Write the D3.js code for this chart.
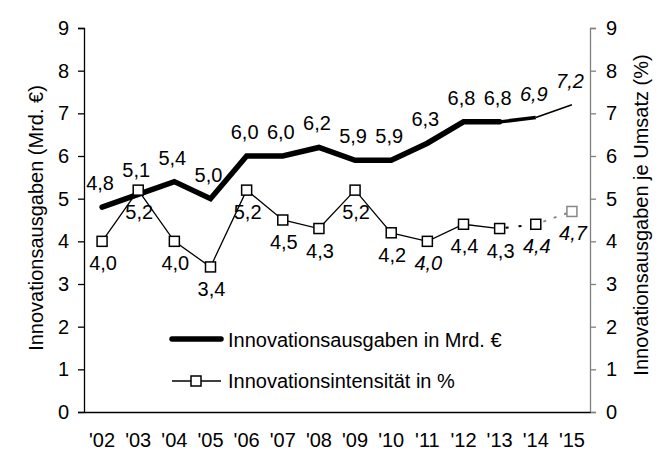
<!DOCTYPE html>
<html>
<head>
<meta charset="utf-8">
<title>Innovationsausgaben</title>
<script src="https://d3js.org/d3.v7.min.js"></script>
<style>
  body { margin: 0; background: #fff; }
  svg { font-family: "Liberation Sans", Arial, sans-serif; }
  .axis text { font-size: 20px; fill: #000; }
  .lbl { font-size: 20px; fill: #000; }
</style>
</head>
<body>
<svg id="chart"></svg>
<script>
const years = ["'02","'03","'04","'05","'06","'07","'08","'09","'10","'11","'12","'13","'14","'15"];
const spend = [4.8, 5.1, 5.4, 5.0, 6.0, 6.0, 6.2, 5.9, 5.9, 6.3, 6.8, 6.8, 6.9, 7.2];
const intensity = [4.0, 5.2, 4.0, 3.4, 5.2, 4.5, 4.3, 5.2, 4.2, 4.0, 4.4, 4.3, 4.4, 4.7];
const yTicks = [0, 1, 2, 3, 4, 5, 6, 7, 8, 9];
// values in italics (estimates / planned)
const spendItalic = ["'14", "'15"];
const intensityItalic = ["'11", "'14", "'15"];

const width = 667, height = 454;
const svg = d3.select("#chart").attr("width", width).attr("height", height);

const x = d3.scaleBand().domain(years).range([84, 590]);
const y = d3.scaleLinear().domain([0, 9]).range([412, 28]);
const cx = d => x(d) + x.bandwidth() / 2;
const fmt = v => d3.format(".1f")(v).replace(".", ",");

// left axis
const gl = svg.append("g").attr("class", "axis").attr("transform", "translate(84,0)")
  .call(d3.axisLeft(y).tickValues(yTicks).tickSize(6).tickPadding(9).tickFormat(d3.format("d")));
gl.select(".domain").attr("stroke", "#000").attr("stroke-width", 1.3);
gl.selectAll(".tick line").attr("stroke", "#000").attr("stroke-width", 1.3);

// right axis
const gr = svg.append("g").attr("class", "axis").attr("transform", "translate(590,0)")
  .call(d3.axisRight(y).tickValues(yTicks).tickSize(6).tickPadding(10).tickFormat(d3.format("d")));
gr.select(".domain").attr("stroke", "#808080").attr("stroke-width", 1.3);
gr.selectAll(".tick line").attr("stroke", "#808080").attr("stroke-width", 1.3);

// x axis
const gx = svg.append("g").attr("class", "axis").attr("transform", "translate(0,412)")
  .call(d3.axisBottom(x).tickSize(0));
gx.select(".domain").attr("stroke", "#000").attr("stroke-width", 1.3);
gx.selectAll(".tick text").attr("dy", "0.35em").attr("y", 28);

// axis titles
svg.append("text").attr("class", "lbl")
  .attr("transform", "translate(43,218) rotate(-90)")
  .attr("text-anchor", "middle").text("Innovationsausgaben (Mrd. €)");
svg.append("text").attr("class", "lbl")
  .attr("transform", "translate(648,215) rotate(-90)")
  .attr("text-anchor", "middle").text("Innovationsausgaben je Umsatz (%)");

const spendPts = years.map((d, i) => [cx(d), y(spend[i])]);
const intPts = years.map((d, i) => [cx(d), y(intensity[i])]);
const line = d3.line();

// intensity series
svg.append("path").attr("d", line(intPts.slice(0, 12)))
  .attr("fill", "none").attr("stroke", "#000").attr("stroke-width", 1.3);
svg.append("path").attr("d", line(intPts.slice(11, 13)))
  .attr("fill", "none").attr("stroke", "#000").attr("stroke-width", 2)
  .attr("stroke-dasharray", "3 10").attr("stroke-dashoffset", -6);
svg.append("path").attr("d", line(intPts.slice(12, 14)))
  .attr("fill", "none").attr("stroke", "#888").attr("stroke-width", 2)
  .attr("stroke-dasharray", "3 8").attr("stroke-dashoffset", -8);

// spend series
svg.append("path").attr("d", line(spendPts.slice(0, 12)))
  .attr("fill", "none").attr("stroke", "#000").attr("stroke-width", 5.5)
  .attr("stroke-linejoin", "miter").attr("stroke-linecap", "round");
svg.append("path").attr("d", line(spendPts.slice(11, 13)))
  .attr("fill", "none").attr("stroke", "#000").attr("stroke-width", 3.5);
svg.append("path").attr("d", line(spendPts.slice(12, 14)))
  .attr("fill", "none").attr("stroke", "#000").attr("stroke-width", 1.6);

// markers
svg.selectAll(".mk").data(years).enter().append("rect")
  .attr("class", "mk")
  .attr("x", (d, i) => intPts[i][0] - 5).attr("y", (d, i) => intPts[i][1] - 5)
  .attr("width", 10).attr("height", 10)
  .attr("fill", "#fff").attr("stroke", (d, i) => i === 13 ? "#888" : "#000").attr("stroke-width", 1.5);

// data labels
svg.selectAll(".sl").data(years).enter().append("text")
  .attr("class", "lbl").attr("text-anchor", "middle")
  .attr("x", (d, i) => spendPts[i][0] - 2).attr("y", (d, i) => spendPts[i][1] - 17)
  .attr("font-style", d => spendItalic.includes(d) ? "italic" : "normal")
  .text((d, i) => fmt(spend[i]));
svg.selectAll(".il").data(years).enter().append("text")
  .attr("class", "lbl").attr("text-anchor", "middle")
  .attr("x", (d, i) => intPts[i][0] + 1).attr("y", (d, i) => intPts[i][1] + 29)
  .attr("font-style", d => intensityItalic.includes(d) ? "italic" : "normal")
  .text((d, i) => fmt(intensity[i]));

// legend
const lg = svg.append("g");
lg.append("line").attr("x1", 172).attr("x2", 221).attr("y1", 339).attr("y2", 339)
  .attr("stroke", "#000").attr("stroke-width", 5.5).attr("stroke-linecap", "round");
lg.append("text").attr("class", "lbl").attr("x", 228).attr("y", 347).text("Innovationsausgaben in Mrd. €");
lg.append("line").attr("x1", 172).attr("x2", 221).attr("y1", 381).attr("y2", 381)
  .attr("stroke", "#000").attr("stroke-width", 1.3);
lg.append("rect").attr("x", 191).attr("y", 376).attr("width", 10).attr("height", 10)
  .attr("fill", "#fff").attr("stroke", "#000").attr("stroke-width", 1.5);
lg.append("text").attr("class", "lbl").attr("x", 228).attr("y", 388).text("Innovationsintensität in %");
</script>
</body>
</html>
